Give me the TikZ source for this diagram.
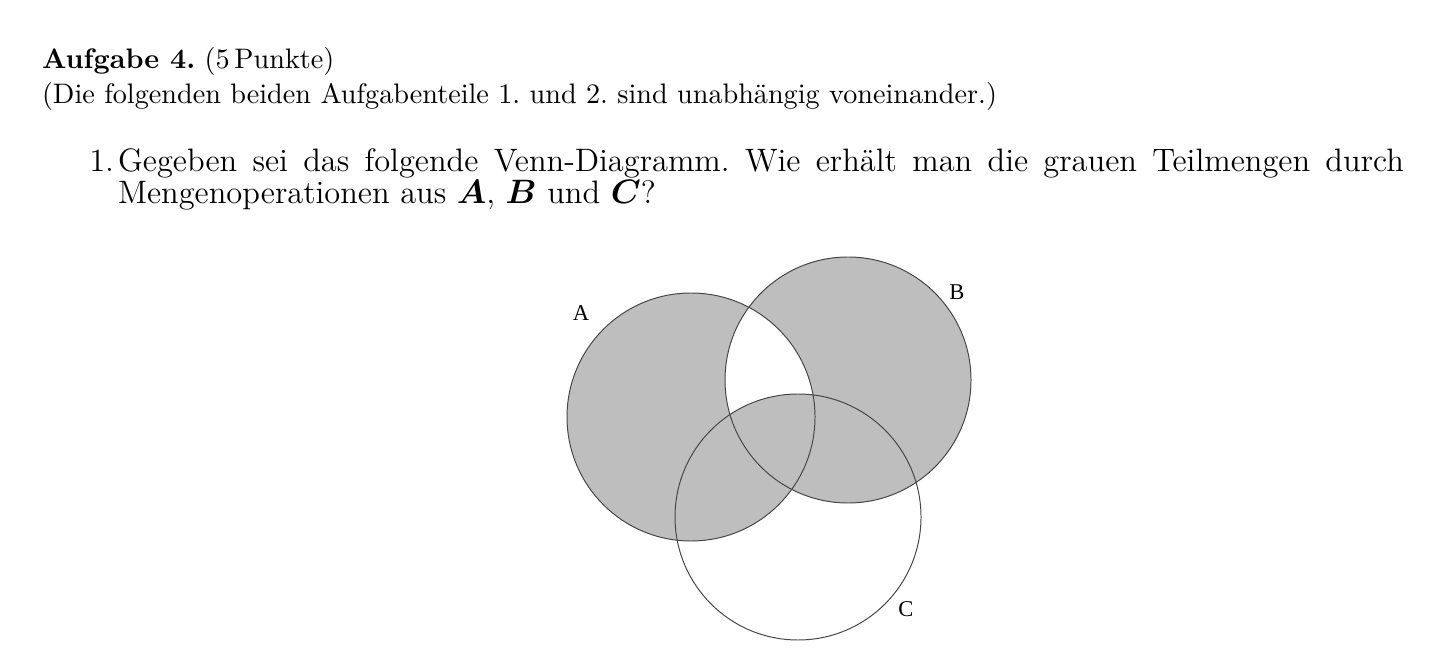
\documentclass[tikz,border=0pt]{standalone}
\usepackage{amsmath}
\usepackage{fontspec}
\newfontfamily\lblfont{Liberation Serif}
\definecolor{venngray}{RGB}{190,190,190}
\definecolor{vennline}{RGB}{70,70,70}
\tikzset{
  txt/.style={anchor=base west, inner sep=0pt, outer sep=0pt},
  itemtxt/.style={txt, font=\fontsize{11.5}{13.8}\selectfont},
  setlbl/.style={inner sep=0pt, font=\lblfont\fontsize{8}{9}\selectfont},
  vennedge/.style={draw=vennline, line width=0.35pt},
}
\begin{document}
\frenchspacing
\begin{tikzpicture}[x=0.3546pt, y=-0.3546pt]
\useasboundingbox (0,0) rectangle (1440,670);
% text
\node[txt] (t1) at (42,69) {\textbf{Aufgabe 4.} (5\,Punkte)};
\node[txt] (t2) at (42,104) {(Die folgenden beiden Aufgabenteile 1. und 2. sind unabh\"angig voneinander.)};
\node[itemtxt, anchor=base east] (n1) at (114,172) {1.};
\node[itemtxt] (t3) at (118,172) {\makebox[1286\dimexpr0.3546pt\relax][s]{Gegeben sei das folgende Venn-Diagramm. Wie erh\"alt man die grauen Teilmengen durch}};
\node[itemtxt] (t4) at (118,204) {Mengenoperationen aus $\boldsymbol{A}$, $\boldsymbol{B}$ und $\boldsymbol{C}$?};
% Venn diagram
\coordinate (cA) at (691,417);
\coordinate (cB) at (848,380);
\coordinate (cC) at (798,517);
\fill[venngray, even odd rule] (cA) circle[radius=124] (cB) circle[radius=123];
\begin{scope}
  \clip (cC) circle[radius=123];
  \fill[venngray] (cA) circle[radius=124] (cB) circle[radius=123];
\end{scope}
\draw[vennedge] (cA) circle[radius=124];
\draw[vennedge] (cB) circle[radius=123];
\draw[vennedge] (cC) circle[radius=123];
\node[setlbl] (lA) at (581,313) {A};
\node[setlbl] (lB) at (957,292) {B};
\node[setlbl] (lC) at (906,609) {C};
\end{tikzpicture}
\end{document}
